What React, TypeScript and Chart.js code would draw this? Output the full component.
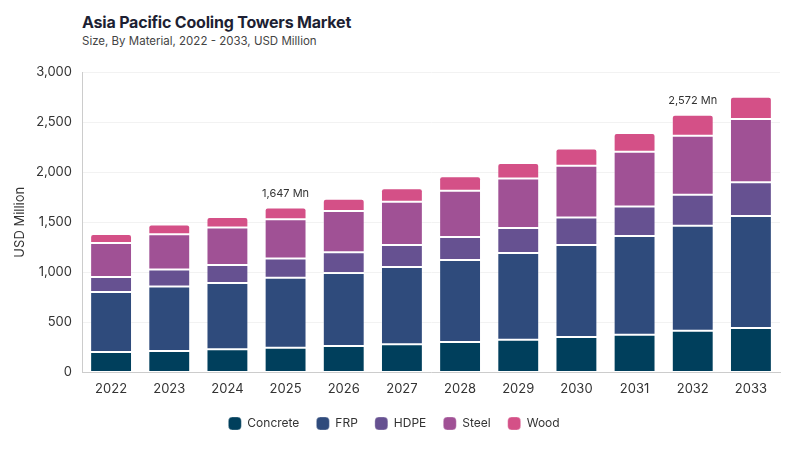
import React, { useEffect, useRef } from 'react';
import { Chart, registerables } from 'chart.js';

Chart.register(...registerables);

const years = ['2022', '2023', '2024', '2025', '2026', '2027', '2028', '2029', '2030', '2031', '2032', '2033'];
const concrete = [203, 213, 230, 245, 263, 280, 303, 327, 353, 377, 415, 443];
const frp = [600, 644, 663, 700, 730, 773, 820, 866, 920, 986, 1050, 1120];
const hdpe = [150, 170, 180, 192, 207, 220, 230, 250, 274, 294, 308, 337];
const steel = [340, 353, 374, 392, 413, 430, 460, 494, 516, 546, 590, 630];
const wood = [90, 97, 106, 118, 120, 137, 147, 153, 174, 187, 209, 223];
const labeledYears = ['2025', '2032'];

const FONT = 'Inter';

const totalLabels = {
  id: 'totalLabels',
  afterDatasetsDraw(chart: any) {
    const { ctx, scales } = chart;
    const all = [concrete, frp, hdpe, steel, wood];
    ctx.save();
    ctx.font = `400 11px ${FONT}`;
    ctx.fillStyle = '#333333';
    ctx.textAlign = 'center';
    ctx.textBaseline = 'middle';
    labeledYears.forEach((yr) => {
      const i = years.indexOf(yr);
      const total = all.reduce((s, d) => s + d[i], 0);
      ctx.fillText(
        total.toLocaleString('en-US') + ' Mn',
        scales.x.getPixelForValue(i),
        scales.y.getPixelForValue(total) - 14
      );
    });
    ctx.restore();
  },
};

// pull the legend a bit closer to the axis labels
const legendShift = {
  id: 'legendShift',
  afterLayout(chart: any) {
    const l = chart.legend;
    if (!l) return;
    l.top -= 6;
    l.bottom -= 6;
  },
};

export default function App() {
  const canvasRef = useRef<HTMLCanvasElement>(null);
  const chartRef = useRef<Chart | null>(null);

  useEffect(() => {
    if (!canvasRef.current) return;
    if (chartRef.current) chartRef.current.destroy();

    const seg = (label: string, data: number[], color: string, top = false) => ({
      label,
      data,
      backgroundColor: color,
      borderColor: 'rgba(255,255,255,0.3)',
      borderWidth: 1,
      borderRadius: top ? { topLeft: 3, topRight: 3, bottomLeft: 0, bottomRight: 0 } : 0,
      borderSkipped: false as const,
      categoryPercentage: 0.72,
      barPercentage: 1,
    });

    chartRef.current = new Chart(canvasRef.current, {
      type: 'bar',
      data: {
        labels: years,
        datasets: [
          seg('Concrete', concrete, '#003f5c'),
          seg('FRP', frp, '#2f4b7c'),
          seg('HDPE', hdpe, '#665191'),
          seg('Steel', steel, '#a05195'),
          seg('Wood', wood, '#d45087', true),
        ],
      },
      options: {
        responsive: true,
        maintainAspectRatio: false,
        animation: false,
        layout: { padding: { top: 72, left: 8, right: 20, bottom: 4 } },
        scales: {
          x: {
            stacked: true,
            grid: { display: false, drawTicks: false },
            border: { display: true, color: '#cccccc' },
            ticks: { padding: 9, color: '#333333', font: { family: FONT, size: 13 } },
          },
          y: {
            stacked: true,
            min: 0,
            max: 3000,
            afterFit: (scale: any) => {
              scale.width = 74;
            },
            grid: { color: '#f2f2f2', drawTicks: false },
            border: { display: true, color: '#cccccc' },
            ticks: {
              stepSize: 500,
              padding: 10,
              color: '#333333',
              font: { family: FONT, size: 13 },
              callback: (v: any) => Number(v).toLocaleString('en-US'),
            },
            title: {
              display: true,
              text: 'USD Million',
              color: '#333333',
              padding: { top: 4, bottom: 0 },
              font: { family: FONT, size: 13 },
            },
          },
        },
        plugins: {
          legend: {
            position: 'bottom',
            labels: {
              boxWidth: 13,
              boxHeight: 13,
              useBorderRadius: true,
              borderRadius: 4,
              padding: 17,
              color: '#333333',
              font: { family: FONT, size: 12 },
            },
          },
          tooltip: { enabled: false },
        },
      },
      plugins: [totalLabels, legendShift],
    });

    return () => {
      if (chartRef.current) {
        chartRef.current.destroy();
        chartRef.current = null;
      }
    };
  }, []);

  return (
    <div style={{ position: 'fixed', top: 0, left: 0, width: '800px', height: '450px', background: '#ffffff' }}>
      <div style={{ position: 'absolute', left: '82px', top: '12px', fontFamily: FONT, fontSize: '16px', lineHeight: '20px', fontWeight: 700, color: '#1d1f33', letterSpacing: '-0.2px' }}>
        Asia Pacific Cooling Towers Market
      </div>
      <div style={{ position: 'absolute', left: '82px', top: '33px', fontFamily: FONT, fontSize: '11.5px', lineHeight: '16px', color: '#444444' }}>
        Size, By Material, 2022 - 2033, USD Million
      </div>
      <div style={{ position: 'relative', width: '800px', height: '450px' }}>
        <canvas ref={canvasRef} />
      </div>
    </div>
  );
}
